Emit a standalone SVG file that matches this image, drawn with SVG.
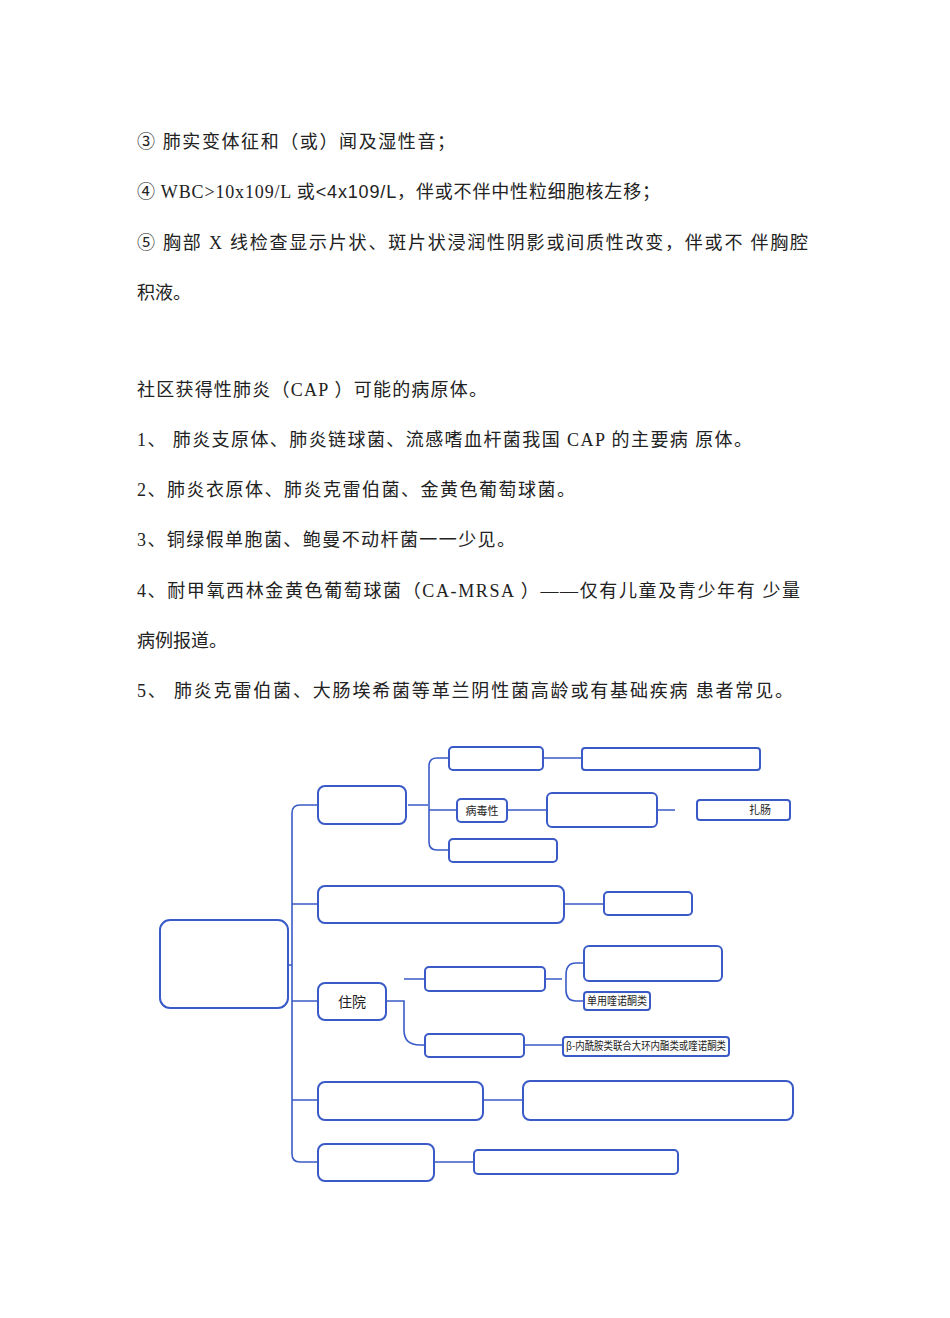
<svg xmlns="http://www.w3.org/2000/svg" width="950" height="1318" viewBox="0 0 950 1318">
<style>
.t{font-family:"Liberation Serif","Noto Sans CJK SC",serif;font-size:18px;fill:#222}
.n rect{fill:#fff;stroke:#3a5bc7;stroke-width:2}
.l{font-family:"Noto Sans CJK SC",sans-serif;font-size:11px;fill:#222}
#c path{fill:none;stroke:#3a5bc7;stroke-width:1.6}
</style>
<rect width="950" height="1318" fill="#fff"/>
<text class="t" x="137" y="148" textLength="318" lengthAdjust="spacing">③ 肺实变体征和（或）闻及湿性音；</text>
<text class="t" x="137" y="198" textLength="523" lengthAdjust="spacing">④ WBC&gt;10x109/L 或<tspan font-family="Liberation Sans">&lt;4x109/L</tspan>，伴或不伴中性粒细胞核左移；</text>
<text class="t" x="137" y="249" textLength="671" lengthAdjust="spacing">⑤ 胸部 X 线检查显示片状、斑片状浸润性阴影或间质性改变，伴或不 伴胸腔</text>
<text class="t" x="137" y="299">积液。</text>
<text class="t" x="137" y="396" textLength="350" lengthAdjust="spacing">社区获得性肺炎（CAP ）可能的病原体。</text>
<text class="t" x="137" y="446" textLength="615" lengthAdjust="spacing">1、 肺炎支原体、肺炎链球菌、流感嗜血杆菌我国 CAP 的主要病 原体。</text>
<text class="t" x="137" y="496" textLength="438" lengthAdjust="spacing">2、肺炎衣原体、肺炎克雷伯菌、金黄色葡萄球菌。</text>
<text class="t" x="137" y="546" textLength="378" lengthAdjust="spacing">3、铜绿假单胞菌、鲍曼不动杆菌一一少见。</text>
<text class="t" x="137" y="597" textLength="663" lengthAdjust="spacing">4、耐甲氧西林金黄色葡萄球菌（CA-MRSA ）——仅有儿童及青少年有 少量</text>
<text class="t" x="137" y="647">病例报道。</text>
<text class="t" x="137" y="697" textLength="656" lengthAdjust="spacing">5、 肺炎克雷伯菌、大肠埃希菌等革兰阴性菌高龄或有基础疾病 患者常见。</text>
<g id="c">
<path d="M288 965H292M318 805H300Q292 805 292 813V1154Q292 1162 300 1162H318M292 904H318M292 1001H318M292 1100H318"/>
<path d="M408 805H428M437 758Q429 758 429 766V842Q429 850 437 850H449M429 810H457M437 758H449M543 758H582M507 810H547M657 810H675M564 904H604M386 1001H404V1030Q404 1045 420 1045H425M404 979H425M545 979H562M576 963Q566 963 566 975V990Q566 1001 576 1001H584M576 963H584M524 1045H563M483 1100H523M434 1162H474"/>
</g>
<g class="n">
<g id="root"><rect x="160" y="920" width="128" height="88" rx="10"/></g>
<g id="a"><rect x="318" y="786" width="88" height="38" rx="7"/></g>
<g id="b1"><rect x="449" y="747" width="94" height="23" rx="4"/></g>
<g id="b1c"><rect x="582" y="748" width="178" height="22" rx="3"/></g>
<g id="b2"><rect x="457" y="799" width="50" height="23" rx="4"/><text class="l" x="482" y="815" text-anchor="middle">病毒性</text></g>
<g id="b2c"><rect x="547" y="793" width="110" height="34" rx="5"/></g>
<g id="b2cc"><rect x="697" y="800" width="93" height="20" rx="3"/><text class="l" x="760" y="814" text-anchor="middle">扎肠</text></g>
<g id="b3"><rect x="449" y="839" width="108" height="23" rx="4"/></g>
<g id="cc"><rect x="318" y="886" width="246" height="37" rx="7"/></g>
<g id="ccc"><rect x="604" y="892" width="88" height="23" rx="4"/></g>
<g id="d"><rect x="318" y="983" width="68" height="37" rx="7"/><text x="352" y="1007" text-anchor="middle" font-family="Noto Sans CJK SC,sans-serif" font-size="14" fill="#222">住院</text></g>
<g id="d1"><rect x="425" y="967" width="120" height="24" rx="4"/></g>
<g id="d1a"><rect x="584" y="946" width="138" height="35" rx="5"/></g>
<g id="d1b"><rect x="584" y="992" width="66" height="18" rx="3"/><text class="l" x="587" y="1005" font-size="9" textLength="60" lengthAdjust="spacingAndGlyphs">单用喹诺酮类</text></g>
<g id="d2"><rect x="425" y="1034" width="99" height="23" rx="4"/></g>
<g id="d2c"><rect x="563" y="1037" width="166" height="19" rx="3"/><text class="l" x="566" y="1050" font-size="9" textLength="160" lengthAdjust="spacingAndGlyphs">β-内酰胺类联合大环内酯类或喹诺酮类</text></g>
<g id="e"><rect x="318" y="1082" width="165" height="38" rx="7"/></g>
<g id="ec"><rect x="523" y="1081" width="270" height="39" rx="7"/></g>
<g id="f"><rect x="318" y="1144" width="116" height="37" rx="7"/></g>
<g id="fc"><rect x="474" y="1150" width="204" height="24" rx="4"/></g>
</g>
</svg>
